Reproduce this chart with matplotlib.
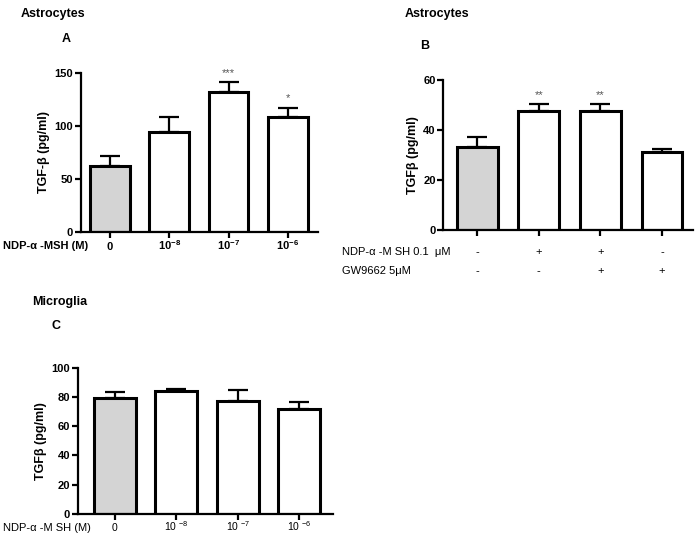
import matplotlib
matplotlib.use("Agg")
import matplotlib.pyplot as plt
import numpy as np

plt.rcParams['font.family'] = ['Liberation Sans', 'DejaVu Sans']
plt.rcParams['mathtext.default'] = 'regular'

# panel A - astrocytes, dose response
a_labels = ['0', '10$^{-8}$', '10$^{-7}$', '10$^{-6}$']
a_vals = [62, 94.5, 131.8, 108.5]
a_err = [9, 13.3, 9, 8.5]
a_stars = ['', '', '***', '*']

# panel B - astrocytes, NDP-a-MSH + GW9662
b_vals = [33.2, 47.7, 47.7, 31.1]
b_err = [4, 2.6, 2.6, 1.4]
b_stars = ['', '**', '**', '']
b_ndp = ['-', '+', '+', '-']
b_gw = ['-', '-', '+', '+']

# panel C - microglia
c_labels = ['0', '10 $^{-8}$', '10 $^{-7}$', '10 $^{-6}$']
c_vals = [79.3, 83.8, 77, 72]
c_err = [4.3, 1.8, 7.7, 4.8]

gray = '#d4d4d4'
fs = 8


def bars(ax, vals, err, width, ymax, yticks, stars=None, xlim=(-0.5, 3.5)):
    x = np.arange(len(vals))
    colors = [gray] + ['white'] * (len(vals) - 1)
    ax.errorbar(x, vals, yerr=[np.zeros(len(err)), err], fmt='none',
                ecolor='black', elinewidth=1.6, capsize=7, capthick=1.6, zorder=1)
    ax.bar(x, vals, width=width, color=colors, edgecolor='black', linewidth=2.2, zorder=2)
    ax.set_ylim(0, ymax)
    ax.set_xlim(*xlim)
    ax.set_yticks(yticks)
    ax.set_xticks(x)
    for s in ['top', 'right']:
        ax.spines[s].set_visible(False)
    for s in ['left', 'bottom']:
        ax.spines[s].set_linewidth(1.6)
    ax.tick_params(direction='out', length=4, width=1.6, labelsize=fs)
    ax.tick_params(axis='y', pad=1.5)
    for lab in ax.get_yticklabels():
        lab.set_fontweight('bold')
    if stars:
        for xi, v, e, s in zip(x, vals, err, stars):
            if s:
                ax.text(xi, v + e + ymax * 0.03, s, ha='center', va='bottom', fontsize=8, color='#555555')
    return x


fig = plt.figure(figsize=(6.97, 5.37), dpi=100)

# A
axA = fig.add_axes([0.1158, 0.5685, 0.340, 0.2961])
xa = bars(axA, a_vals, a_err, 0.67, 150, [0, 50, 100, 150], a_stars, xlim=(-0.49, 3.5))
axA.set_xticklabels(a_labels, fontweight='bold', va='baseline')
axA.tick_params(axis='x', pad=9.5)
axA.set_ylabel('TGF-β (pg/ml)', fontsize=9, fontweight='bold', labelpad=3)
fig.text(0.004, 0.5415, 'NDP-α -MSH (M)', fontsize=fs, fontweight='bold', va='center')
fig.text(0.03, 0.985, 'Astrocytes', fontsize=9, fontweight='bold', va='top')
fig.text(0.089, 0.938, 'A', fontsize=9, fontweight='bold', va='top')

# B
axB = fig.add_axes([0.636, 0.5717, 0.358, 0.2793])
xb = bars(axB, b_vals, b_err, 0.66, 60, [0, 20, 40, 60], b_stars, xlim=(-0.55, 3.5))
axB.set_xticklabels([])
axB.set_ylabel('TGFβ (pg/ml)', fontsize=9, fontweight='bold', labelpad=3)
fig.text(0.491, 0.5307, 'NDP-α -M SH 0.1  μM', fontsize=fs, va='center')
fig.text(0.491, 0.496, 'GW9662 5μM', fontsize=fs, va='center')
for xi, n, g in zip(xb, b_ndp, b_gw):
    xf = fig.transFigure.inverted().transform(axB.transData.transform((xi, 0)))[0]
    fig.text(xf, 0.5307, n, fontsize=fs, ha='center', va='center')
    fig.text(xf, 0.496, g, fontsize=fs, ha='center', va='center')
fig.text(0.581, 0.985, 'Astrocytes', fontsize=9, fontweight='bold', va='top')
fig.text(0.603, 0.925, 'B', fontsize=9, fontweight='bold', va='top')

# C
axC = fig.add_axes([0.1115, 0.0428, 0.3665, 0.2725])
xc = bars(axC, c_vals, c_err, 0.68, 100, [0, 20, 40, 60, 80, 100], xlim=(-0.6, 3.55))
axC.set_xticklabels(c_labels, va='baseline')
axC.tick_params(axis='x', pad=8.5, labelsize=7.5)
axC.set_ylabel('TGFβ (pg/ml)', fontsize=9, fontweight='bold', labelpad=3)
fig.text(0.004, 0.0167, 'NDP-α -M SH (M)', fontsize=fs, va='center')
fig.text(0.046, 0.448, 'Microglia', fontsize=9, fontweight='bold', va='top')
fig.text(0.074, 0.405, 'C', fontsize=9, fontweight='bold', va='top')

fig.savefig('out.png', dpi=100)
